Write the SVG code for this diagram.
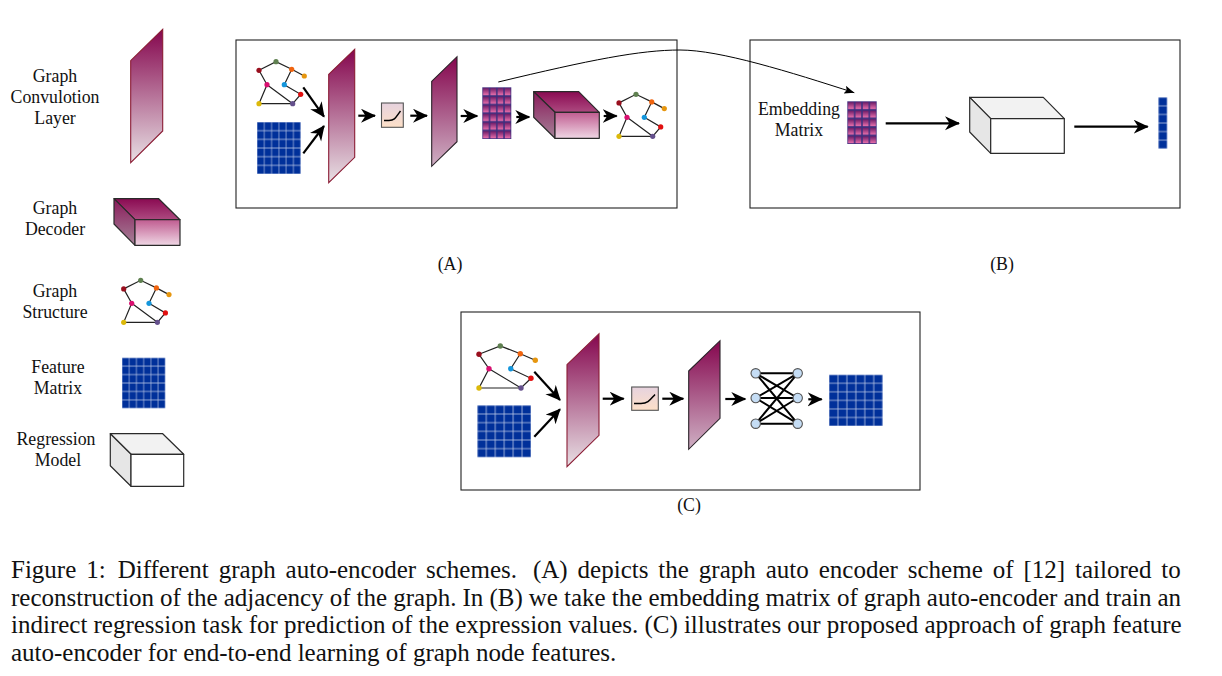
<svg xmlns="http://www.w3.org/2000/svg" width="1222" height="676" viewBox="0 0 1222 676">
<style>
text{font-family:"Liberation Serif","Times New Roman",serif;fill:#111}
.lb{font-size:17.8px;text-anchor:middle}
.cap{font-size:25px}
.frame{fill:none;stroke:#222;stroke-width:1.1}
.gcn{fill:url(#gGcn);stroke:#8a1c34;stroke-width:1.1}
.gcn2{fill:url(#gGcn2);stroke:#2a2228;stroke-width:1.1}
.e{stroke:#222;stroke-width:1.2;fill:none}
.fc{stroke:#2a2a2a;stroke-width:1.2;stroke-linejoin:round}
.ar{stroke:#000;stroke-width:2.2;fill:none;marker-end:url(#ah)}
.net{stroke:#000;stroke-width:2}
.nn{fill:#c5ddf5;stroke:#555;stroke-width:1.1}
</style>
<defs>
<linearGradient id="gGcn" x1="0" y1="0" x2="0" y2="1"><stop offset="0" stop-color="#85064e"/><stop offset="1" stop-color="#e8e0e4"/></linearGradient>
<linearGradient id="gGcn2" x1="0" y1="0" x2="0" y2="1"><stop offset="0" stop-color="#85064e"/><stop offset="1" stop-color="#cfb0c4"/></linearGradient>
<linearGradient id="gTop" x1="0" y1="0" x2="0" y2="1"><stop offset="0" stop-color="#8a0a52"/><stop offset="1" stop-color="#ad4a80"/></linearGradient>
<linearGradient id="gSide" x1="0" y1="0" x2="0" y2="1"><stop offset="0" stop-color="#8a1a5a"/><stop offset="1" stop-color="#a58298"/></linearGradient>
<linearGradient id="gFront" x1="0" y1="0" x2="0" y2="1"><stop offset="0" stop-color="#c05c90"/><stop offset="1" stop-color="#efd6e4"/></linearGradient>
<linearGradient id="gAct" x1="0" y1="0" x2="0" y2="1"><stop offset="0" stop-color="#e6d2de"/><stop offset="1" stop-color="#fde0c8"/></linearGradient>
<linearGradient id="gCell" x1="0" y1="0" x2="0" y2="1"><stop offset="0" stop-color="#6a1a66"/><stop offset="1" stop-color="#ea70ac"/></linearGradient>
<pattern id="pB66" patternUnits="objectBoundingBox" width=".16667" height=".16667" patternContentUnits="objectBoundingBox"><rect width=".16667" height=".16667" fill="#b4c2e4"/><rect x=".008" y=".008" width=".151" height=".151" fill="#00309a"/></pattern>
<pattern id="pB16" patternUnits="objectBoundingBox" width="1" height=".16667" patternContentUnits="objectBoundingBox"><rect width="1" height=".16667" fill="#b4c2e4"/><rect x=".05" y=".008" width=".9" height=".151" fill="#00309a"/></pattern>
<pattern id="pE46" patternUnits="objectBoundingBox" width=".25" height=".16667" patternContentUnits="objectBoundingBox"><rect width=".25" height=".16667" fill="#3a3080"/><rect x=".025" y=".014" width=".2" height=".139" fill="url(#gCell)"/></pattern>
<pattern id="pE45" patternUnits="objectBoundingBox" width=".25" height=".2" patternContentUnits="objectBoundingBox"><rect width=".25" height=".2" fill="#3a3080"/><rect x=".025" y=".018" width=".2" height=".164" fill="url(#gCell)"/></pattern>
<marker id="ah" markerUnits="userSpaceOnUse" markerWidth="18" markerHeight="16" refX="14" refY="7" orient="auto"><path d="M0,0 L15,7 L0,14 L4.5,7 Z" fill="#000"/></marker>
<marker id="aht" markerUnits="userSpaceOnUse" markerWidth="12" markerHeight="10" refX="10" refY="4" orient="auto"><path d="M0,0 L10,4 L0,8 L2,4 Z" fill="#000"/></marker>
<g id="graph">
<path class="e" d="M0,8.6 L17,0 L32.7,7.6 L45.3,14.3 M32.7,7.6 L25.3,23 L41.7,32.6 L33.7,42 L0,42 L8,23 L0,8.6 M8,23 L33.7,42"/>
<circle cx="0" cy="8.6" r="2.6" fill="#990f1e"/><circle cx="17" cy="0" r="2.6" fill="#5f8050"/><circle cx="32.7" cy="7.6" r="2.6" fill="#f0640f"/><circle cx="45.3" cy="14.3" r="2.6" fill="#e6960f"/><circle cx="8" cy="23" r="2.6" fill="#d90f70"/><circle cx="25.3" cy="23" r="2.6" fill="#1496dc"/><circle cx="41.7" cy="32.6" r="2.6" fill="#e10f0f"/><circle cx="33.7" cy="42" r="2.6" fill="#64508c"/><circle cx="0" cy="42" r="2.6" fill="#dcb90a"/>
</g>
</defs>
<rect width="1222" height="676" fill="#fff"/>

<g id="legend-gcn"><polygon class="gcn" points="130.7,60.7 162.7,29.3 162.7,131 130.7,162.7"/><text class="lb" x="55" y="82">Graph</text><text class="lb" x="55" y="103">Convulotion</text><text class="lb" x="55" y="124">Layer</text></g>
<g id="legend-decoder"><polygon class="fc" fill="url(#gTop)" points="114,198.7 158.7,198.7 180,219.7 135,219.7"/><polygon class="fc" fill="url(#gSide)" points="114,198.7 135,219.7 135,245.3 114,224"/><rect class="fc" fill="url(#gFront)" x="135" y="219.7" width="45" height="25.6"/><text class="lb" x="55" y="214">Graph</text><text class="lb" x="55" y="235">Decoder</text></g>
<g id="legend-graph"><use href="#graph" x="123.7" y="280.3"/><text class="lb" x="55" y="297">Graph</text><text class="lb" x="55" y="318">Structure</text></g>
<g id="legend-matrix"><rect x="122" y="357.7" width="43.3" height="50.6" fill="url(#pB66)"/><text class="lb" x="58" y="373">Feature</text><text class="lb" x="58" y="394">Matrix</text></g>
<g id="legend-regression"><polygon class="fc" fill="#f2f2f2" points="110.3,433.7 162.7,433.7 183.7,454.3 131,454.3"/><polygon class="fc" fill="#e6e6e6" points="110.3,433.7 131,454.3 131,486.3 110.3,465.7"/><rect class="fc" fill="#fff" x="131" y="454.3" width="52.7" height="32"/><text class="lb" x="56" y="445">Regression</text><text class="lb" x="58" y="466">Model</text></g>

<g id="panel-a"><rect class="frame" x="236" y="40" width="441" height="168"/><text class="lb" x="450" y="270">(A)</text></g>
<g id="a-graph"><use href="#graph" x="259" y="61.7"/></g>
<g id="a-matrix"><rect x="257" y="122" width="43.7" height="52" fill="url(#pB66)"/></g>
<g id="a-gcn1"><polygon class="gcn" points="328.7,74.3 354.7,49.3 354.7,157.3 328.7,182.7"/></g>
<g id="a-act"><rect x="381.5" y="103" width="21.8" height="24.3" fill="url(#gAct)" stroke="#555" stroke-width="1.1"/><path d="M384,120.5 H389 C395,120.5 396,117 400.5,111" fill="none" stroke="#000" stroke-width="1.5"/></g>
<g id="a-gcn2"><polygon class="gcn2" points="431.7,81.3 457,56.7 457,141.7 431.7,166.3"/></g>
<g id="a-embed"><rect x="482.3" y="87.3" width="29" height="51.7" fill="url(#pE46)"/></g>
<g id="a-decoder"><polygon class="fc" fill="url(#gTop)" points="533.7,91.7 578.7,91.7 599.3,112.3 555,112.3"/><polygon class="fc" fill="url(#gSide)" points="533.7,91.7 555,112.3 555,138.3 533.7,117.3"/><rect class="fc" fill="url(#gFront)" x="555" y="112.3" width="44.3" height="26"/></g>
<g id="a-graph-out"><use href="#graph" x="619" y="94.3"/></g>

<g id="panel-b"><rect class="frame" x="750" y="40" width="430" height="168"/><text class="lb" x="1002" y="270">(B)</text></g>
<g id="b-embed"><rect x="847.3" y="101.3" width="29.4" height="42.7" fill="url(#pE45)"/><text class="lb" x="799" y="115">Embedding</text><text class="lb" x="799" y="136">Matrix</text></g>
<g id="b-regression"><polygon class="fc" fill="#f2f2f2" points="969.7,97.3 1043.3,97.3 1064.3,118.7 990.7,118.7"/><polygon class="fc" fill="#e6e6e6" points="969.7,97.3 990.7,118.7 990.7,153.3 969.7,132"/><rect class="fc" fill="#fff" x="990.7" y="118.7" width="73.6" height="34.6"/></g>
<g id="b-vector"><rect x="1158.3" y="97.3" width="9" height="51.4" fill="url(#pB16)"/></g>

<g id="panel-c"><rect class="frame" x="461" y="312" width="459" height="178"/><text class="lb" x="689" y="511">(C)</text></g>
<g id="c-graph">
<path class="e" d="M479,354.3 L500.3,346 L520.3,353.7 L535.3,360.3 M520.3,353.7 L510.7,368.7 L531,378.3 L521,388 L479,388 L489,368.7 L479,354.3 M489,368.7 L521,388"/>
<circle cx="479" cy="354.3" r="2.7" fill="#990f1e"/><circle cx="500.3" cy="346" r="2.7" fill="#5f8050"/><circle cx="520.3" cy="353.7" r="2.7" fill="#f0640f"/><circle cx="535.3" cy="360.3" r="2.7" fill="#e6960f"/><circle cx="489" cy="368.7" r="2.7" fill="#d90f70"/><circle cx="510.7" cy="368.7" r="2.7" fill="#1496dc"/><circle cx="531" cy="378.3" r="2.7" fill="#e10f0f"/><circle cx="521" cy="388" r="2.7" fill="#64508c"/><circle cx="479" cy="388" r="2.7" fill="#dcb90a"/>
</g>
<g id="c-matrix"><rect x="477.3" y="405.3" width="53.7" height="52" fill="url(#pB66)"/></g>
<g id="c-gcn1"><polygon class="gcn" points="567,364.7 599,333.7 599,435.3 567,466.7"/></g>
<g id="c-act"><rect x="631.7" y="387" width="26.6" height="23.3" fill="url(#gAct)" stroke="#555" stroke-width="1.1"/><path d="M634,403.5 H641 C648,403.5 650,400 655,394.5" fill="none" stroke="#000" stroke-width="1.5"/></g>
<g id="c-gcn2"><polygon class="gcn2" points="688.7,371 720,340.7 720,418.3 688.7,449.3"/></g>
<g id="c-network">
<path class="net" d="M755.7,373.3 H797.7 M755.7,398 H797.7 M755.7,423.7 H797.7 M755.7,373.3 L797.7,398 M755.7,373.3 L797.7,423.7 M755.7,398 L797.7,373.3 M755.7,398 L797.7,423.7 M755.7,423.7 L797.7,373.3 M755.7,423.7 L797.7,398"/>
<circle class="nn" cx="755.7" cy="373.3" r="4.7"/><circle class="nn" cx="755.7" cy="398" r="4.7"/><circle class="nn" cx="755.7" cy="423.7" r="4.7"/><circle class="nn" cx="797.7" cy="373.3" r="4.7"/><circle class="nn" cx="797.7" cy="398" r="4.7"/><circle class="nn" cx="797.7" cy="423.7" r="4.7"/>
</g>
<g id="c-matrix-out"><rect x="829" y="374.7" width="53.7" height="51.3" fill="url(#pB66)"/></g>

<g id="connectors">
<path class="ar" d="M303.3,87.3 L324,116.7"/>
<path class="ar" d="M303.3,153.3 L324,126"/>
<path class="ar" d="M358.3,115.7 H375"/>
<path class="ar" d="M410.3,115.7 H427"/>
<path class="ar" d="M460.7,116 H477.3"/>
<path class="ar" d="M516.3,117 H529.3"/>
<path class="ar" d="M603.7,116 H616.7"/>
<path d="M498.3,82 C590,60 640,50 680,50 C720,50 790,72 854.3,92.7" fill="none" stroke="#000" stroke-width="1" marker-end="url(#aht)"/>
<path class="ar" d="M885.7,123.3 H959"/>
<path class="ar" d="M1074.3,126.7 H1147.7"/>
<path class="ar" d="M534.3,371.7 L560,400"/>
<path class="ar" d="M534.3,436.7 L560,409.3"/>
<path class="ar" d="M602.7,398.7 H623.7"/>
<path class="ar" d="M662.3,398.7 H683.3"/>
<path class="ar" d="M725.3,399 H745.3"/>
<path class="ar" d="M808.3,399.3 H821.7"/>
</g>

<g id="caption">
<text class="cap" x="11" y="578" word-spacing="3.7">Figure 1: <tspan dx="2">Different graph auto-encoder schemes.</tspan> <tspan dx="6">(A) depicts the graph auto encoder scheme of [12] tailored to</tspan></text>
<text class="cap" x="11" y="605.5" word-spacing="-.16">reconstruction of the adjacency of the graph. In (B) we take the embedding matrix of graph auto-encoder and train an</text>
<text class="cap" x="11" y="633" word-spacing="-.12">indirect regression task for prediction of the expression values. (C) illustrates our proposed approach of graph feature</text>
<text class="cap" x="11" y="660.5">auto-encoder for end-to-end learning of graph node features.</text>
</g>
</svg>
